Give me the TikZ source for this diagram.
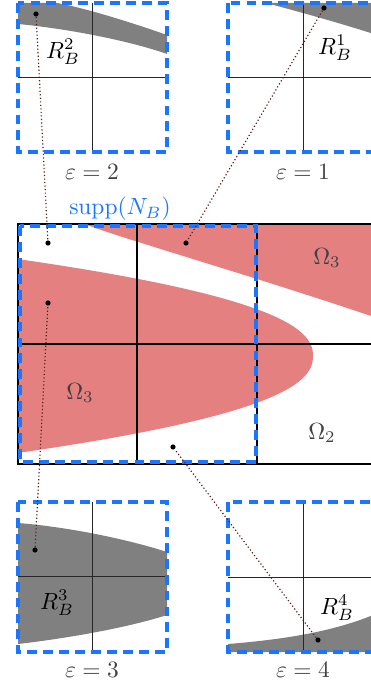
\documentclass[tikz,border=0pt]{standalone}
\usepackage{amsmath,amssymb}
\usepackage{tikz}
\usetikzlibrary{arrows.meta, positioning, calc}
\usepackage{xcolor}
\definecolor{msupp}{HTML}{1A75FF}
\definecolor{mregion}{HTML}{E48080}
\definecolor{mpatch}{HTML}{808080}
\definecolor{mlabel}{HTML}{404040}
\definecolor{mlink}{HTML}{5A1A1A}
\tikzset{
  suppbox/.style={draw=msupp, line width=1.3pt, dash pattern=on 4.2pt off 2.6pt},
  gridline/.style={draw=black, line width=0.8pt},
  axisline/.style={draw=black!85, line width=0.4pt},
  pin/.style={circle, fill=black, inner sep=0pt, minimum size=2.2pt},
  link/.style={mlink, densely dotted, line width=0.5pt},
  tag/.style={text=mlabel},
}

\begin{document}
\begin{tikzpicture}[x=0.015cm, y=-0.015cm]
  \clip (0,0) rectangle (371,684);
  % main picture: the two red parts of Omega_3
  \fill[mregion] plot[domain=-97:97, samples=80, smooth]
    ({313-pow(abs(\x)/8,2.28)}, {356+\x}) -- cycle;
  \fill[mregion] (84,224) .. controls (130,241) and (250,275) .. (380,319)
    -- (380,224) -- cycle;
  \draw[gridline] (18,224) rectangle (380,464);
  \draw[gridline] (137,224) -- (137,464) (257,224) -- (257,464) (18,344) -- (380,344);
  \draw[suppbox] (20,226) rectangle (256,462);
  \node[text=msupp] (supp) at (120,209) {$\mathrm{supp}(N_B)$};
  \node[tag] (om3a) at (80,393) {$\Omega_3$};
  \node[tag] (om3b) at (327,258) {$\Omega_3$};
  \node[tag] (om2) at (322,433) {$\Omega_2$};

  % patch eps = 2
  \fill[mpatch] (18,3) -- (57,3) .. controls (85,8) and (130,22) .. (167,35)
    -- (167,54) .. controls (130,41) and (70,29) .. (18,24) -- cycle;
  \draw[axisline] (92,3) -- (92,152) (18,77) -- (167,77);
  \draw[suppbox] (18,3) rectangle (167,152);
  \node (r2) at (63,52) {$R_B^2$};
  \node[tag] (e2) at (92,172) {$\varepsilon=2$};

  % patch eps = 1
  \fill[mpatch] (266,3) .. controls (300,12) and (340,23) .. (380,36) -- (380,3) -- cycle;
  \draw[axisline] (303,3) -- (303,152) (228,77) -- (380,77);
  \draw[suppbox] (228,3) rectangle (380,152);
  \node (r1) at (335,48) {$R_B^1$};
  \node[tag] (e1) at (303,172) {$\varepsilon=1$};

  % patch eps = 3
  \fill[mpatch] (18,523) .. controls (70,527) and (130,540) .. (167,552)
    -- (167,615) .. controls (130,627) and (70,638) .. (18,644) -- cycle;
  \draw[axisline] (92,502) -- (92,652) (18,576) -- (167,576);
  \draw[suppbox] (18,502) rectangle (167,652);
  \node (r3) at (57,603) {$R_B^3$};
  \node[tag] (e3) at (92,670) {$\varepsilon=3$};

  % patch eps = 4
  \fill[mpatch] (228,644) .. controls (290,639) and (340,630) .. (380,612)
    -- (380,652) -- (228,652) -- cycle;
  \draw[axisline] (303,502) -- (303,652) (228,577) -- (380,577);
  \draw[suppbox] (228,502) rectangle (380,652);
  \node (r4) at (337,608) {$R_B^4$};
  \node[tag] (e4) at (303,670) {$\varepsilon=4$};

  % sample points and their zooms
  \node[pin] (p2) at (36,14) {};
  \node[pin] (q2) at (48,243) {};
  \node[pin] (p1) at (324,8) {};
  \node[pin] (q1) at (186,243) {};
  \node[pin] (p3) at (35,550) {};
  \node[pin] (q3) at (48,303) {};
  \node[pin] (p4) at (318,640) {};
  \node[pin] (q4) at (173,447) {};
  \draw[link] (p2) -- (q2);
  \draw[link] (p1) -- (q1);
  \draw[link] (p3) -- (q3);
  \draw[link] (p4) -- (q4);
\end{tikzpicture}
\end{document}
